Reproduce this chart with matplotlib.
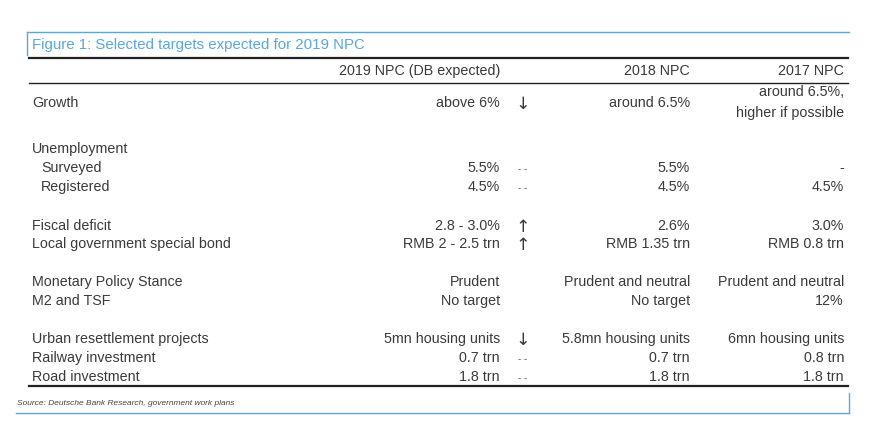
import matplotlib
matplotlib.use("Agg")
import matplotlib.pyplot as plt
from matplotlib.lines import Line2D

title = "Figure 1: Selected targets expected for 2019 NPC"
headers = ["2019 NPC (DB expected)", "2018 NPC", "2017 NPC"]
row_labels = ["Growth", "Unemployment", "Surveyed", "Registered",
              "Fiscal deficit", "Local government special bond",
              "Monetary Policy Stance", "M2 and TSF",
              "Urban resettlement projects", "Railway investment", "Road investment"]
indent = [False, False, True, True, False, False, False, False, False, False, False]
col2019 = ["above 6%", "", "5.5%", "4.5%", "2.8 - 3.0%", "RMB 2 - 2.5 trn",
           "Prudent", "No target", "5mn housing units", "0.7 trn", "1.8 trn"]
change = ["↓", "", "--", "--", "↑", "↑", "", "", "↓", "--", "--"]
col2018 = ["around 6.5%", "", "5.5%", "4.5%", "2.6%", "RMB 1.35 trn",
           "Prudent and neutral", "No target", "5.8mn housing units", "0.7 trn", "1.8 trn"]
col2017 = ["around 6.5%,\nhigher if possible", "", "-", "4.5%", "3.0%", "RMB 0.8 trn",
           "Prudent and neutral", "12%", "6mn housing units", "0.8 trn", "1.8 trn"]
source = "Source: Deutsche Bank Research, government work plans"

row_y = [103, 149, 168, 187, 226, 244, 282, 301, 339, 358, 377]

W, H = 890, 440
plt.rcParams['font.family'] = ['Liberation Sans', 'DejaVu Sans']
fig = plt.figure(figsize=(W / 100, H / 100), dpi=100)
fig.patch.set_facecolor("white")

def px(x, y):
    return x / W, 1 - y / H

def hline(x0, x1, y, color, lw):
    (a, b), (c, _) = px(x0, y), px(x1, y)
    fig.add_artist(Line2D([a, c], [b, b], color=color, lw=lw, transform=fig.transFigure))

def vline(x, y0, y1, color, lw):
    (a, b), (_, d) = px(x, y0), px(x, y1)
    fig.add_artist(Line2D([a, a], [b, d], color=color, lw=lw, transform=fig.transFigure))

blue = "#5aa7dc"
txt = "#3a3a3a"
fs = 10.3

def t(x, y, s, ha="left", **kw):
    X, Y = px(x, y)
    kw.setdefault("color", txt)
    kw.setdefault("fontsize", fs)
    fig.text(X, Y, s, ha=ha, va="center", **kw)

# title box
hline(27, 849, 32, blue, 1.0)
vline(27, 32, 55, blue, 1.0)
t(32, 45, title, color=blue, fontsize=10.8)

hline(29, 848, 58, "#222222", 1.6)
t(500, 71, headers[0], ha="right")
t(690, 71, headers[1], ha="right")
t(844, 71, headers[2], ha="right")
hline(29, 848, 83, "#222222", 1.0)

for i, lab in enumerate(row_labels):
    y = row_y[i]
    t(41 if indent[i] else 32, y, lab)
    t(500, y, col2019[i], ha="right")
    if change[i] == "--":
        t(523, y + 1, "- -", ha="center", fontsize=7, color="#555555")
    elif change[i]:
        t(523, y + 1, change[i], ha="center", fontsize=12.5, family="DejaVu Sans")
    t(690, y, col2018[i], ha="right")
    if "\n" in col2017[i]:
        a, b = col2017[i].split("\n")
        t(844, y - 11, a, ha="right")
        t(844, y + 10, b, ha="right")
    else:
        t(844, y, col2017[i], ha="right")

hline(29, 848, 386, "#222222", 1.6)

# source box
hline(16, 849, 413, blue, 1.0)
vline(849, 393, 413, blue, 1.0)
t(17, 403, source, fontsize=6, style="italic", color="#444444")

fig.savefig("out.png", dpi=100, facecolor="white")
